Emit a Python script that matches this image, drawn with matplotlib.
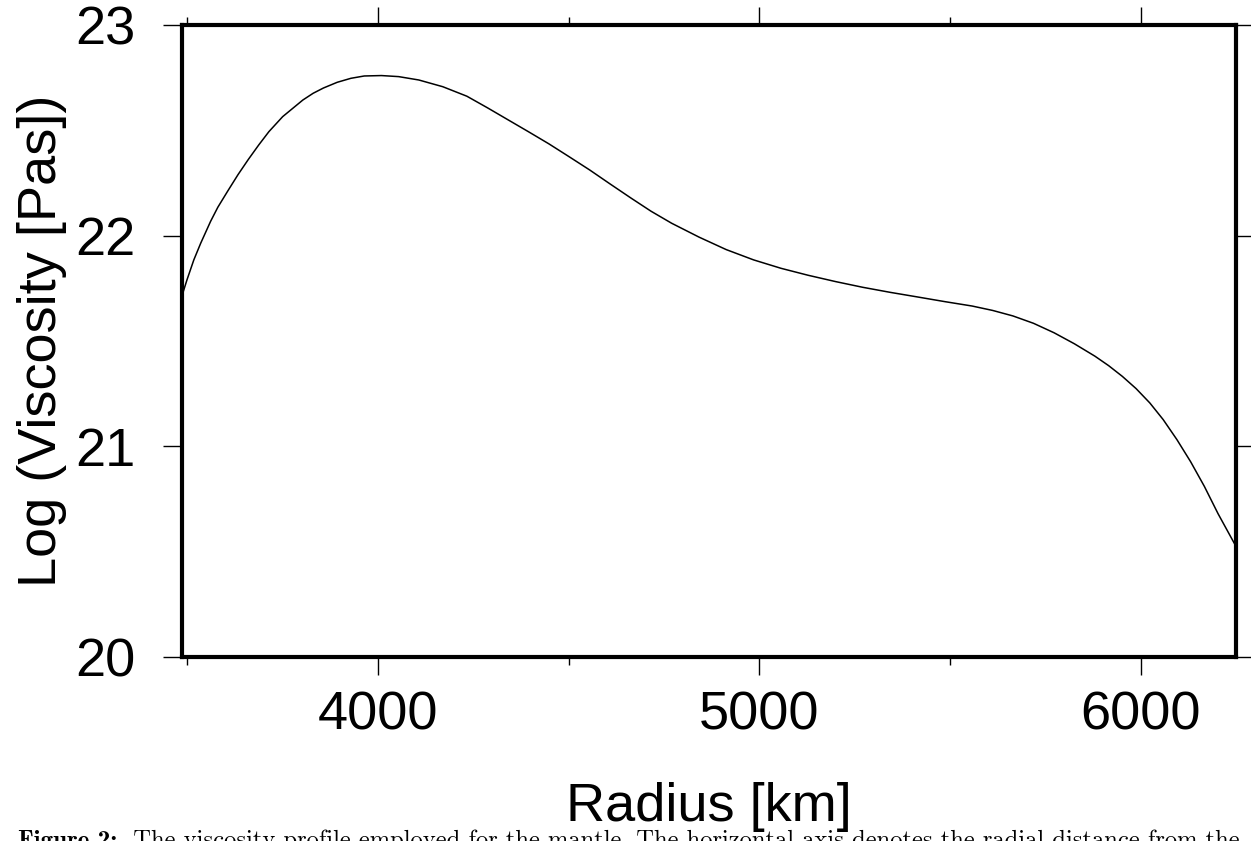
import matplotlib
matplotlib.use("Agg")
import matplotlib.pyplot as plt
from matplotlib.ticker import MultipleLocator

# Data
radius_km = [3486, 3499, 3517, 3535, 3561, 3580, 3606, 3633, 3660, 3687,
             3714, 3750, 3803, 3830, 3857, 3893, 3929, 3964, 4009, 4054,
             4107, 4170, 4233, 4287, 4340, 4394, 4448, 4501, 4555, 4609,
             4663, 4716, 4770, 4842, 4913, 4985, 5057, 5128, 5200, 5271,
             5343, 5415, 5486, 5558, 5612, 5665, 5719, 5773, 5826, 5880,
             5916, 5952, 5988, 6024, 6059, 6095, 6131, 6167, 6203, 6250]
log_visc = [21.715, 21.790, 21.885, 21.964, 22.068, 22.135, 22.212, 22.290, 22.362, 22.430,
            22.494, 22.565, 22.644, 22.676, 22.701, 22.728, 22.747, 22.758, 22.760, 22.755,
            22.739, 22.707, 22.662, 22.607, 22.551, 22.494, 22.436, 22.375, 22.312, 22.245,
            22.179, 22.116, 22.059, 21.993, 21.934, 21.885, 21.845, 21.812, 21.782, 21.755,
            21.731, 21.709, 21.687, 21.666, 21.645, 21.619, 21.584, 21.539, 21.487, 21.428,
            21.383, 21.332, 21.274, 21.206, 21.127, 21.032, 20.927, 20.810, 20.680, 20.525]
x_ticks = [4000, 5000, 6000]
y_ticks = [20, 21, 22, 23]
x_label = "Radius [km]"
y_label = "Log (Viscosity [Pas])"
caption_bold = "Figure 2:"
caption_rest = "  The viscosity profile employed for the mantle. The horizontal axis denotes the radial distance from the"

W, H = 1251, 841
fig = plt.figure(figsize=(W / 100, H / 100), dpi=100)
ax = fig.add_axes([182 / W, 1 - 657 / H, (1236 - 182) / W, (657 - 25) / H])

ax.plot(radius_km, log_visc, color="black", lw=1.1)
ax.set_xlim(3486, 6250)
ax.set_ylim(20, 23)

ax.set_xticks(x_ticks)
ax.xaxis.set_minor_locator(MultipleLocator(500))
ax.set_yticks(y_ticks)

fs = 39
for lab in ax.get_xticklabels() + ax.get_yticklabels():
    lab.set_fontfamily("Liberation Sans")
    lab.set_fontsize(fs)

ax.tick_params(axis="x", which="major", direction="out", length=13, width=1.0,
               top=True, bottom=True, pad=11)
ax.tick_params(axis="x", which="minor", direction="out", length=6, width=1.0,
               top=True, bottom=True)
ax.tick_params(axis="y", which="major", direction="out", length=13.5, width=1.0,
               left=True, right=True, pad=20)

for s in ax.spines.values():
    s.set_linewidth(3)

fig.text(709 / W, 1 - 807 / H, x_label, fontsize=fs, family="Liberation Sans",
         ha="center", va="center")
fig.text(42 / W, 1 - 341 / H, y_label, fontsize=fs, family="Liberation Sans",
         ha="center", va="center", rotation=90)

t1 = fig.text(18 / W, 1 - 847 / H, caption_bold, fontsize=18, family="cmb10",
              ha="left", va="baseline")
ax.annotate(caption_rest, xy=(1, 0), xycoords=t1, fontsize=17.7, family="cmr10",
            ha="left", va="bottom", annotation_clip=False)

fig.savefig("out.png", dpi=100)
